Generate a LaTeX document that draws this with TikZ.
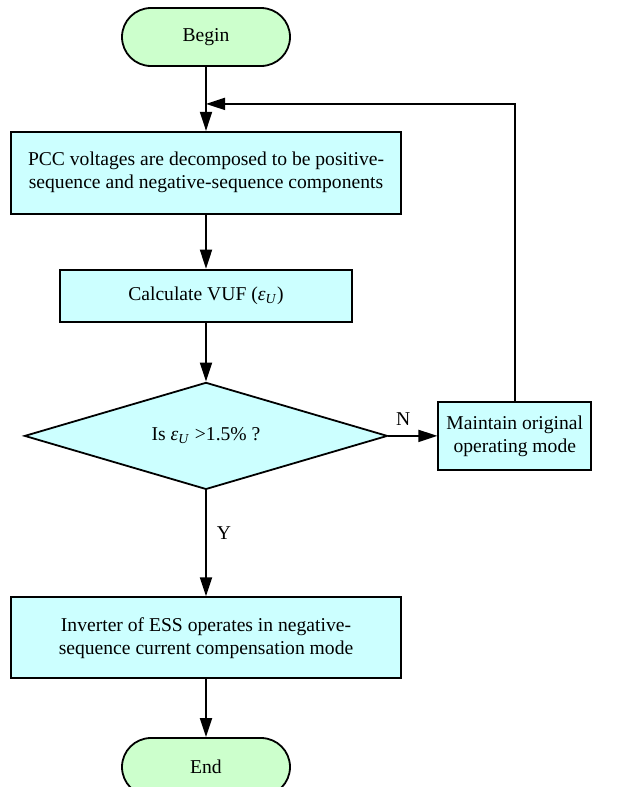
\documentclass[tikz,border=0pt]{standalone}
\usepackage{fontspec}
\setmainfont{Liberation Serif}
\usetikzlibrary{shapes.geometric, arrows.meta, positioning}
\definecolor{termgreen}{RGB}{204,255,204}
\definecolor{proccyan}{RGB}{204,255,255}
\tikzset{
    termbox/.style={rectangle, rounded corners=14.5pt, draw=black, line width=0.9pt,
                    fill=termgreen, minimum width=84pt, minimum height=29pt, inner sep=0pt},
    procbox/.style={rectangle, draw=black, line width=0.9pt, fill=proccyan,
                    align=center, inner sep=0pt},
    decbox/.style={diamond, aspect=3.4, draw=black, line width=0.9pt, fill=proccyan,
                   align=center, inner sep=0pt, minimum width=181.5pt, minimum height=53.5pt},
    arrow/.style={-{Triangle[length=9.5pt, width=6pt]}, line width=0.9pt},
    edgelbl/.style={inner sep=0pt},
}
\begin{document}
\begin{tikzpicture}[node distance=30pt and 24.5pt, font=\fontsize{9.8}{11.5}\selectfont]
    \useasboundingbox (0,0) rectangle (310pt,-393.5pt);
    \node[termbox] (begin) at (103pt,-18.5pt) {Begin};
    \node[procbox, minimum width=195pt, minimum height=41pt, below=32pt of begin] (decomp)
        {PCC voltages are decomposed to be positive-\\sequence and negative-sequence components};
    \node[procbox, minimum width=146pt, minimum height=26pt, below=27pt of decomp] (vuf)
        {Calculate VUF (\textit{ε}\textsubscript{\textit{U}})};
    \node[decbox, below=29.5pt of vuf] (check)
        {Is \textit{ε}\textsubscript{\textit{U}} >1.5\% ?};
    \node[procbox, minimum width=76.5pt, minimum height=34pt, right=24.5pt of check] (keep)
        {Maintain original\\operating mode};
    \node[procbox, minimum width=195pt, minimum height=40.5pt, below=53pt of check] (comp)
        {Inverter of ESS operates in negative-\\sequence current compensation mode};
    \node[termbox, below=29pt of comp] (end) {End};
    \coordinate[below=18.5pt of begin] (merge);

    \draw[arrow] (begin) -- (decomp);
    \draw[arrow] (decomp) -- (vuf);
    \draw[arrow] (vuf) -- (check);
    \draw[arrow] (check) -- node[edgelbl, above=5pt, pos=0.3] {N} (keep);
    \draw[arrow] (check) -- node[edgelbl, right=5pt, pos=0.4] {Y} (comp);
    \draw[arrow] (comp) -- (end);
    \draw[arrow] (keep.north) |- (merge);
\end{tikzpicture}
\end{document}
